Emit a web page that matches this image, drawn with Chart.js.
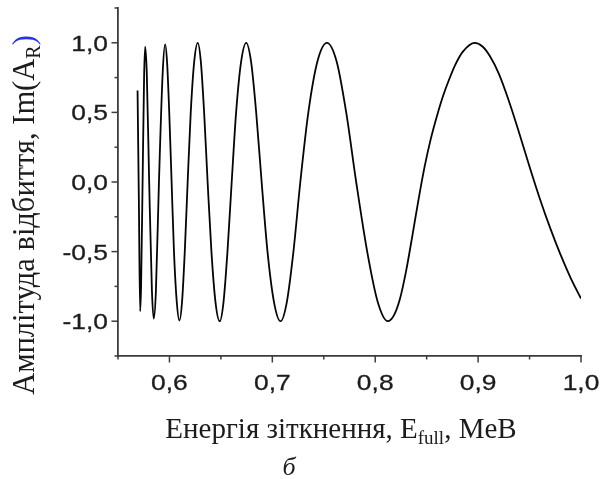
<!DOCTYPE html>
<html><head><meta charset="utf-8">
<script src="https://cdn.jsdelivr.net/npm/chart.js@4.4.1/dist/chart.umd.min.js"></script>
<style>html,body{margin:0;padding:0;background:#fff;overflow:hidden}#c{display:block}</style>
</head><body>
<canvas id="c" width="609" height="479"></canvas>
<script>
// Energy (MeV) and Im(A_R)
const energy = [
  0.5690, 0.5703, 0.5715,
  0.57243, 0.5739, 0.57537, 0.5764,
  0.57798, 0.5803, 0.58296, 0.5847,
  0.58681, 0.5898, 0.59347, 0.5958,
  0.5977, 0.5998, 0.6021, 0.6044, 0.6071, 0.6097,
  0.6122, 0.6149, 0.6177, 0.6207, 0.6241, 0.6275,
  0.6305, 0.6337, 0.6371, 0.6408, 0.6448, 0.6489,
  0.6525, 0.6564, 0.6605, 0.6648, 0.6697, 0.6746,
  0.6793, 0.6843, 0.6896, 0.6953, 0.7017, 0.7080,
  0.7140, 0.7205, 0.7272, 0.7350, 0.7438, 0.7531,
  0.7625, 0.7718, 0.7815, 0.7922, 0.8026, 0.8122,
  0.8180, 0.8240, 0.8300, 0.8360, 0.8420, 0.8480, 0.8540, 0.8600, 0.8660, 0.8720, 0.8780, 0.8850, 0.8968,
  0.9040, 0.9114, 0.9200, 0.9300, 0.9400, 0.9500, 0.9600, 0.9700, 0.9800, 0.9900, 1.0000
];
const imAR = [
  0.657, -0.15, -0.928,
  -0.75, 0.0, 0.76, 0.973,
  0.78, 0.0, -0.78, -0.982,
  -0.79, 0.0, 0.79, 0.988,
  0.86, 0.50, 0.0, -0.50, -0.86, -0.995,
  -0.866, -0.5, 0.0, 0.5, 0.866, 1.0,
  0.866, 0.5, 0.0, -0.5, -0.866, -1.0,
  -0.866, -0.5, 0.0, 0.5, 0.866, 1.0,
  0.866, 0.5, 0.0, -0.5, -0.866, -1.0,
  -0.866, -0.5, 0.0, 0.5, 0.866, 1.0,
  0.866, 0.5, 0.0, -0.5, -0.866, -1.0,
  -0.96, -0.84, -0.64, -0.39, -0.13, 0.11, 0.31, 0.475, 0.62, 0.74, 0.845, 0.935, 1.0,
  0.975, 0.905, 0.78, 0.58, 0.35, 0.11, -0.12, -0.33, -0.52, -0.69, -0.837
];
const xTickValues = [0.6, 0.7, 0.8, 0.9, 1.0];
const xTickLabels = ['0,6', '0,7', '0,8', '0,9', '1,0'];
const yTickValues = [-1.0, -0.5, 0.0, 0.5, 1.0];
const yTickLabels = ['-1,0', '-0,5', '0,0', '0,5', '1,0'];
const xTitleParts = ['Енергія зіткнення, E', 'full', ', MeB'];
const yTitleParts = ['Амплітуда відбиття, Im(A', 'R', ')'];
const panelLabel = 'б';

const AXIS = '#3c3c3c';
const TXT = '#1c1c1c';
const near = (a, b) => Math.abs(a - b) < 1e-6;

const decor = {
  id: 'decor',
  afterDraw(chart) {
    const ctx = chart.ctx, xs = chart.scales.x, ys = chart.scales.y;
    ctx.save();
    // tick marks
    ctx.strokeStyle = AXIS; ctx.lineWidth = 1.5;
    xs.ticks.forEach(t => {
      const px = xs.getPixelForValue(t.value);
      const major = xTickValues.some(v => near(v, t.value));
      ctx.beginPath(); ctx.moveTo(px, xs.top); ctx.lineTo(px, xs.top + (major ? 6.5 : 3.5)); ctx.stroke();
    });
    ys.ticks.forEach(t => {
      const py = ys.getPixelForValue(t.value);
      const major = yTickValues.some(v => near(v, t.value));
      ctx.beginPath(); ctx.moveTo(ys.right, py); ctx.lineTo(ys.right - (major ? 6.5 : 3.5), py); ctx.stroke();
    });
    // tick labels (slightly wide sans like the reference)
    const SX = 1.2;
    ctx.fillStyle = TXT; ctx.strokeStyle = TXT; ctx.lineWidth = 0.3;
    ctx.font = '22px "Liberation Sans", Arial, sans-serif';
    ctx.textBaseline = 'alphabetic';
    xTickValues.forEach((v, i) => {
      const px = xs.getPixelForValue(v);
      ctx.save(); ctx.translate(px, xs.top + 33.5); ctx.scale(SX, 1);
      ctx.textAlign = 'center'; ctx.fillText(xTickLabels[i], 0, 0); ctx.strokeText(xTickLabels[i], 0, 0); ctx.restore();
    });
    yTickValues.forEach((v, i) => {
      const py = ys.getPixelForValue(v);
      ctx.save(); ctx.translate(ys.right - 10, py + 8); ctx.scale(SX, 1);
      ctx.textAlign = 'right'; ctx.fillText(yTickLabels[i], 0, 0); ctx.strokeText(yTickLabels[i], 0, 0); ctx.restore();
    });
    // axis titles
    const serif = '"Liberation Serif", "Times New Roman", serif';
    const drawParts = (parts, size, subSize, cx, colors) => {
      ctx.font = size + 'px ' + serif; const w0 = ctx.measureText(parts[0]).width;
      ctx.font = subSize + 'px ' + serif; const w1 = ctx.measureText(parts[1]).width;
      ctx.font = size + 'px ' + serif; const w2 = ctx.measureText(parts[2]).width;
      let x = cx - (w0 + w1 + w2) / 2;
      ctx.textAlign = 'left';
      ctx.fillStyle = colors[0]; ctx.font = size + 'px ' + serif; ctx.fillText(parts[0], x, 0); x += w0;
      ctx.fillStyle = colors[1]; ctx.font = subSize + 'px ' + serif; ctx.fillText(parts[1], x, 6); x += w1;
      ctx.fillStyle = colors[2]; ctx.font = size + 'px ' + serif; ctx.fillText(parts[2], x, 0);
    };
    ctx.save(); ctx.translate(0, 438);
    drawParts(xTitleParts, 29, 19, 341, [TXT, TXT, TXT]);
    ctx.restore();
    ctx.save(); ctx.translate(34, 215); ctx.rotate(-Math.PI / 2);
    drawParts(yTitleParts, 30.5, 20, 0, [TXT, TXT, '#2233ee']);
    ctx.restore();
    ctx.fillStyle = TXT; ctx.textAlign = 'center';
    ctx.font = 'italic 26px ' + serif;
    ctx.fillText(panelLabel, 289, 475);
    ctx.restore();
  }
};

new Chart(document.getElementById('c'), {
  type: 'line',
  data: {
    datasets: [{
      data: energy.map((e, i) => ({ x: e, y: imAR[i] })),
      borderColor: '#050505',
      borderWidth: 1.8,
      pointRadius: 0,
      fill: false,
      cubicInterpolationMode: 'monotone'
    }]
  },
  options: {
    responsive: false,
    devicePixelRatio: 1,
    animation: false,
    events: [],
    layout: { padding: { left: 0, right: 28, top: 8, bottom: 0 } },
    plugins: { legend: { display: false }, tooltip: { enabled: false } },
    scales: {
      x: {
        type: 'linear', min: 0.55, max: 1.0,
        ticks: { stepSize: 0.05, display: false },
        grid: { display: false },
        border: { display: true, color: AXIS, width: 1.8 },
        afterFit(s) { s.height = 123; }
      },
      y: {
        type: 'linear', min: -1.25, max: 1.25,
        ticks: { stepSize: 0.25, display: false },
        grid: { display: false },
        border: { display: true, color: AXIS, width: 1.8 },
        afterFit(s) { s.width = 118; }
      }
    }
  },
  plugins: [decor]
});
</script>
</body></html>
